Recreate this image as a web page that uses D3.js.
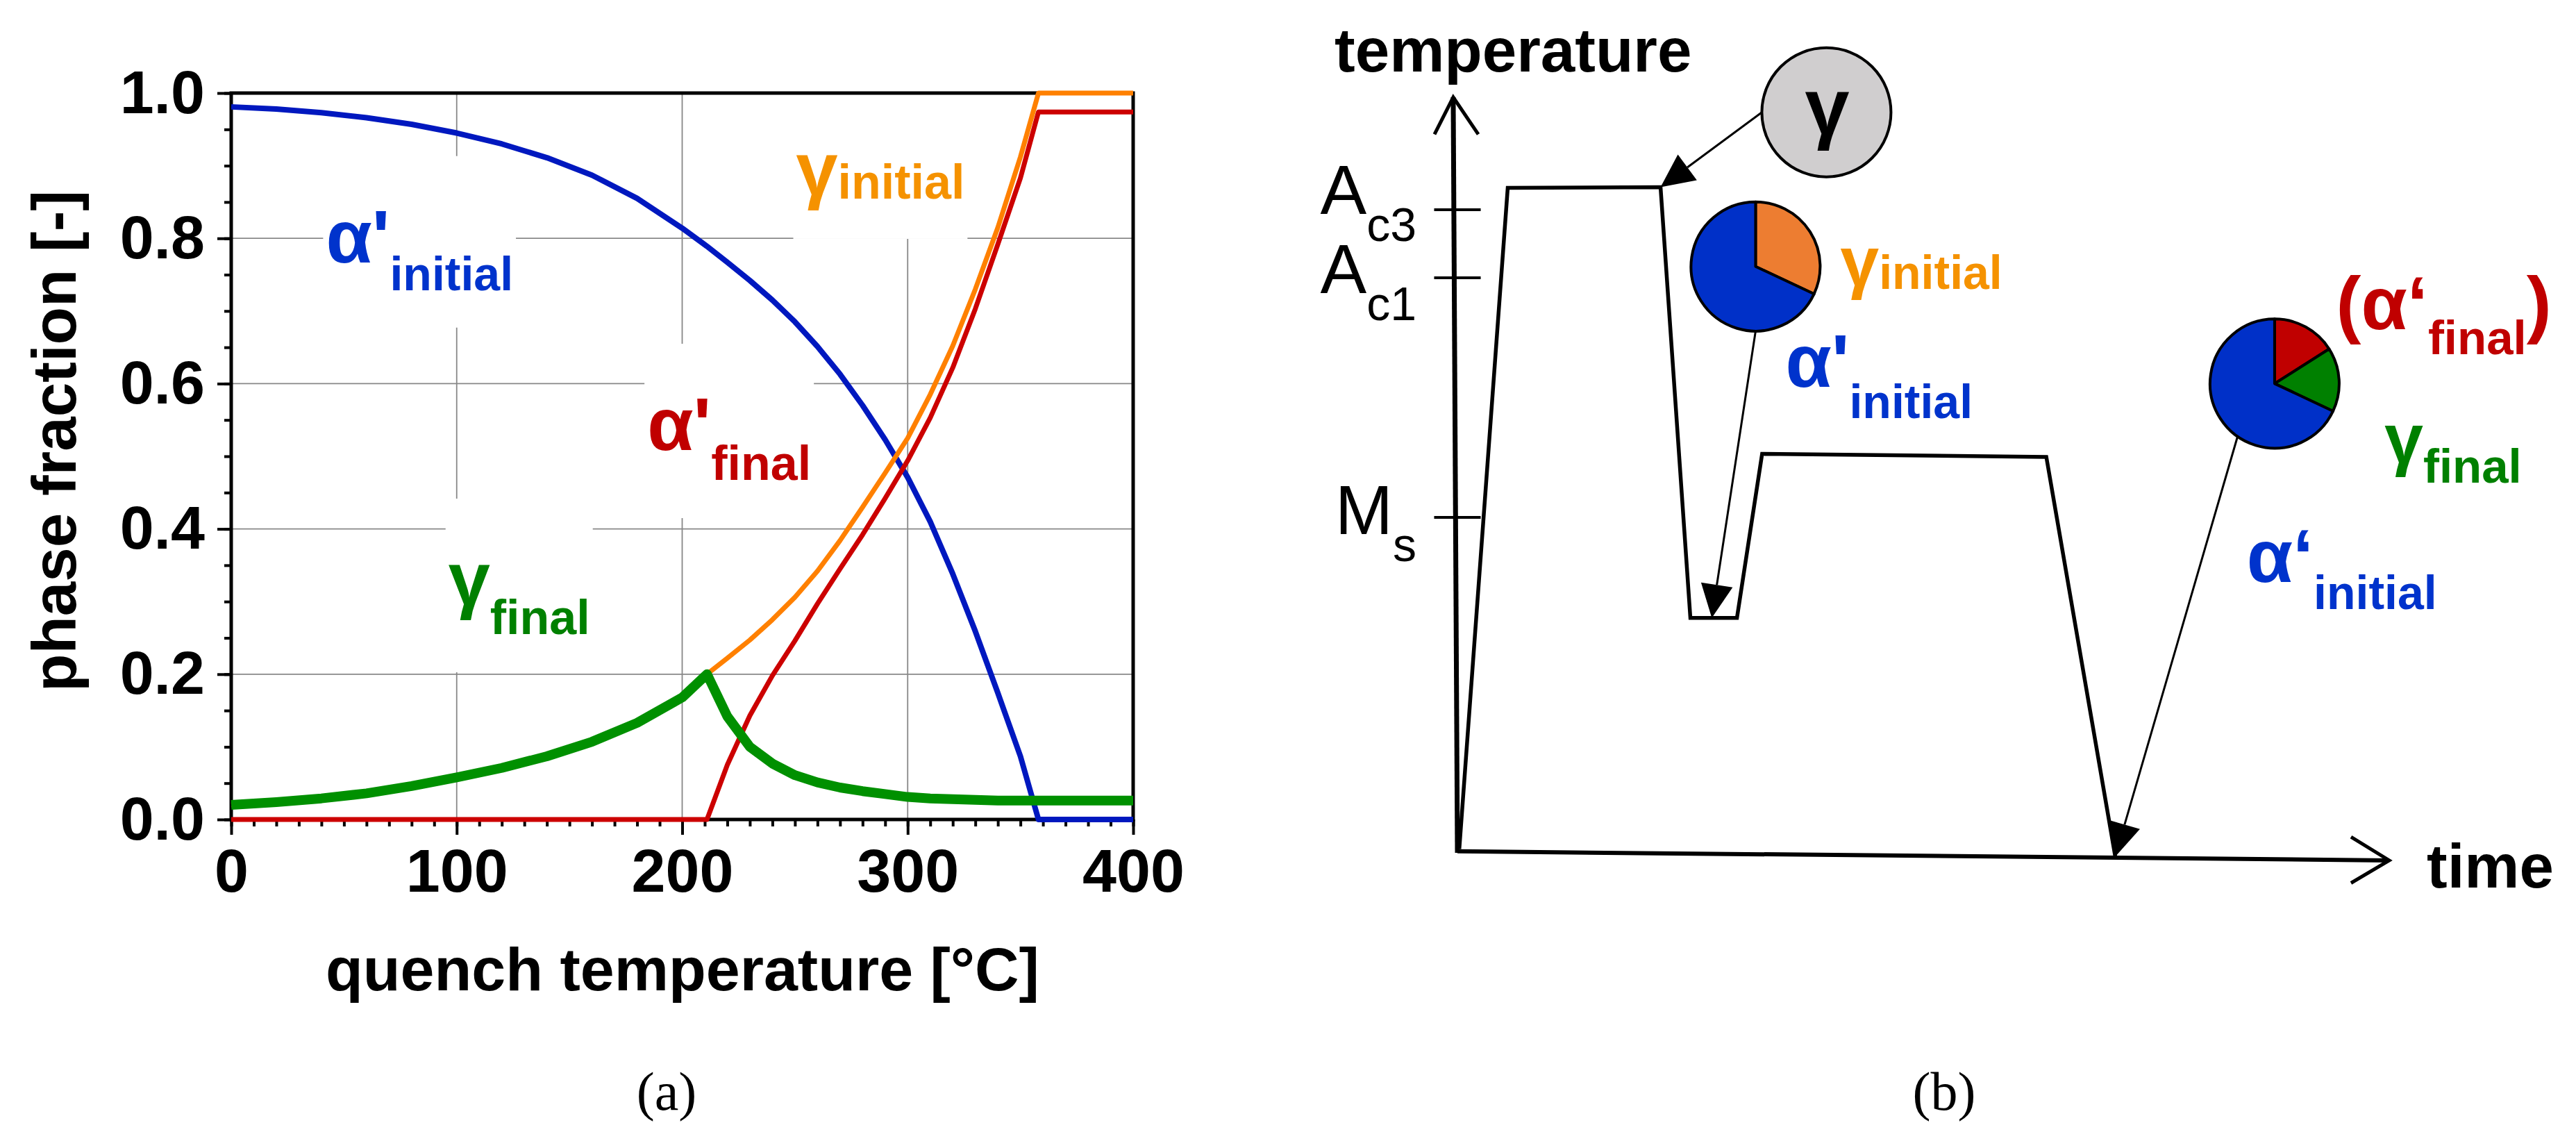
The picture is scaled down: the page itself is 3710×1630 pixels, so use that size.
<!DOCTYPE html>
<html>
<head>
<meta charset="utf-8">
<script src="https://cdn.jsdelivr.net/npm/d3@7"></script>
<style>
  body { margin: 0; background: #fff; }
  svg { display: block; }
  text { font-family: "Liberation Sans", Arial, sans-serif; }
</style>
</head>
<body>
<svg id="chart" width="3710" height="1630"></svg>
<script>
// ---- (a) phase fractions vs quench temperature ----
var quenchTemp   = [0, 20, 40, 60, 80, 100, 120, 140, 160, 180, 200, 211, 220, 230, 240, 250, 260, 270, 280, 290, 300, 310, 320, 330, 340, 350, 358, 370, 385, 400];
var alphaInitial = [.981, .978, .973, .966, .957, .945, .930, .911, .887, .855, .814, .789, .767, .742, .715, .685, .651, .613, .570, .523, .471, .410, .338, .259, .174, .087, 0, 0, 0, 0];
var gammaInitial = [.020, .024, .029, .036, .046, .058, .071, .087, .107, .133, .168, .200, .222, .247, .275, .306, .342, .384, .430, .477, .525, .585, .652, .730, .815, .912, 1, 1, 1, 1];
var alphaFinal   = [0, 0, 0, 0, 0, 0, 0, 0, 0, 0, 0, 0, .075, .143, .198, .246, .297, .345, .392, .442, .494, .553, .622, .703, .792, .883, .974, .974, .974, .974];
var gammaFinal   = [.020, .024, .029, .036, .046, .058, .071, .087, .107, .133, .168, .200, .142, .100, .077, .061, .051, .044, .039, .035, .031, .029, .028, .027, .026, .026, .026, .026, .026, .026];

var xTickValues = [0, 100, 200, 300, 400];
var xTickLabels = ["0", "100", "200", "300", "400"];
var yTickValues = [0, 0.2, 0.4, 0.6, 0.8, 1.0];
var yTickLabels = ["0.0", "0.2", "0.4", "0.6", "0.8", "1.0"];

// ---- (b) schematic heat treatment ----
var pathTime = [0.2, 5.4, 21.8, 25.0, 30.0, 32.7, 63.2, 70.6];
var pathTemp = [0.5, 88.0, 88.1, 31.1, 31.1, 52.8, 52.4, -0.5];
var critNames = ["A", "A", "M"];
var critSubs  = ["c3", "c1", "s"];
var critTemps = [85.1, 76.1, 44.4];
var pieInitial = [0.32, 0.68];          // gamma initial, alpha' initial
var pieFinal   = [0.16, 0.16, 0.68];    // alpha' final, gamma final, alpha' initial

var svg = d3.select("#chart");
var bold = "bold";

// ================= panel (a) =================
var x = d3.scaleLinear().domain([0, 400]).range([333, 1632]);
var y = d3.scaleLinear().domain([0, 1]).range([1180, 134]);
var gA = svg.append("g");

// grid
gA.append("g").selectAll("line").data(xTickValues.slice(1, -1)).join("line")
  .attr("x1", d => x(d)).attr("x2", d => x(d)).attr("y1", y(0)).attr("y2", y(1))
  .attr("stroke", "#888").attr("stroke-width", 1.8);
gA.append("g").selectAll("line").data(yTickValues.slice(1, -1)).join("line")
  .attr("y1", d => y(d)).attr("y2", d => y(d)).attr("x1", x(0)).attr("x2", x(400))
  .attr("stroke", "#888").attr("stroke-width", 1.8);

var boxes = gA.append("g");

// axes
function styleAxis(g) {
  g.select(".domain").remove();
  g.selectAll(".tick line").attr("stroke", "#000").attr("stroke-width", 4);
  g.selectAll(".tick text").attr("font-size", 88).attr("font-weight", bold).attr("fill", "#000");
}
gA.append("g").attr("transform", "translate(0," + y(0) + ")")
  .call(d3.axisBottom(x).tickValues(d3.range(0, 401, 10)).tickSize(10).tickFormat(""))
  .call(styleAxis);
gA.append("g").attr("transform", "translate(0," + y(0) + ")")
  .call(d3.axisBottom(x).tickValues(xTickValues).tickSize(22).tickPadding(20)
    .tickFormat((d, i) => xTickLabels[i]))
  .call(styleAxis);
gA.append("g").attr("transform", "translate(" + x(0) + ",0)")
  .call(d3.axisLeft(y).tickValues(d3.range(0, 1.001, 0.05)).tickSize(10).tickFormat(""))
  .call(styleAxis);
gA.append("g").attr("transform", "translate(" + x(0) + ",0)")
  .call(d3.axisLeft(y).tickValues(yTickValues).tickSize(20).tickPadding(18)
    .tickFormat((d, i) => yTickLabels[i]))
  .call(styleAxis);

gA.append("rect").attr("x", x(0)).attr("y", y(1))
  .attr("width", x(400) - x(0)).attr("height", y(0) - y(1))
  .attr("fill", "none").attr("stroke", "#000").attr("stroke-width", 5);

// curves
var line = d3.line().x(d => x(d[0])).y(d => y(d[1]));
var series = [
  { v: alphaInitial, c: "#0018BF", w: 8 },
  { v: gammaInitial, c: "#FF8000", w: 7 },
  { v: alphaFinal,   c: "#CC0000", w: 7 },
  { v: gammaFinal,   c: "#009000", w: 14 }
];
gA.append("g").selectAll("path").data(series).join("path")
  .attr("d", s => line(quenchTemp.map((t, i) => [t, s.v[i]])))
  .attr("fill", "none").attr("stroke", s => s.c).attr("stroke-width", s => s.w)
  .attr("stroke-linejoin", "round");

// axis titles
gA.append("text").attr("x", 983).attr("y", 1426).attr("text-anchor", "middle")
  .attr("font-size", 88).attr("font-weight", bold).text("quench temperature [°C]");
gA.append("text").attr("transform", "translate(109,635) rotate(-90)").attr("text-anchor", "middle")
  .attr("font-size", 89).attr("font-weight", bold).text("phase fraction [-]");

function label(g, px, py, parts, color) {
  var t = g.append("text").attr("x", px).attr("y", py).attr("fill", color).attr("font-weight", bold);
  parts.forEach(function (p) {
    t.append("tspan").attr("font-size", p[1]).attr("dy", p[2] || 0).text(p[0]);
  });
  return t;
}
var labA = gA.append("g");
var labelsA = [
  label(labA, x(42), y(0.767), [["α'", 108], ["initial", 68, 40]], "#0033CC"),
  label(labA, x(250.5), y(0.8595), [["γ", 108], ["initial", 70, 5]], "#F59200"),
  label(labA, x(184.5), y(0.5086), [["α'", 108], ["final", 70, 43]], "#C00000"),
  label(labA, x(96.3), y(0.2954), [["γ", 108], ["final", 70, 42]], "#008000")
];
labelsA.forEach(function (t) {
  var b = t.node().getBBox();
  boxes.append("rect").attr("x", b.x - 4).attr("y", b.y - 55)
    .attr("width", b.width + 8).attr("height", b.height + 95).attr("fill", "#fff");
});

// ================= panel (b) =================
var tx = d3.scaleLinear().domain([0, 100]).range([2099, 3441]);
var ty = d3.scaleLinear().domain([0, 100]).range([1228, 140]);
var gB = svg.append("g");

// axes with open arrow heads
var pl = d3.line().x(d => tx(d[0])).y(d => ty(d[1]));
gB.append("path").attr("d", pl([[0, 0], [-0.45, 100]])).attr("stroke", "#000").attr("stroke-width", 7).attr("fill", "none");
gB.append("path").attr("d", pl([[0, 0.2], [100, -1.0]])).attr("stroke", "#000").attr("stroke-width", 6).attr("fill", "none");
gB.append("path").attr("d", pl([[-2.46, 95.1], [-0.45, 100], [2.24, 95.1]])).attr("stroke", "#000").attr("stroke-width", 5).attr("fill", "none");
gB.append("path").attr("d", pl([[95.9, 2.1], [100, -1.0], [95.9, -4.0]])).attr("stroke", "#000").attr("stroke-width", 5).attr("fill", "none");

gB.append("text").attr("x", 1922).attr("y", 103).attr("font-size", 89).attr("font-weight", bold).text("temperature");
gB.append("text").attr("x", 3495).attr("y", 1278).attr("font-size", 89).attr("font-weight", bold).text("time");

// critical temperatures
var labDy = [6, 22, 24];
critTemps.forEach(function (t, i) {
  gB.append("line").attr("x1", tx(-2.5)).attr("x2", tx(2.5)).attr("y1", ty(t)).attr("y2", ty(t))
    .attr("stroke", "#000").attr("stroke-width", 4);
  var tt = gB.append("text").attr("x", 2040).attr("y", ty(t) + labDy[i]).attr("text-anchor", "end");
  tt.append("tspan").attr("font-size", 100).text(critNames[i]);
  tt.append("tspan").attr("font-size", 68).attr("dy", 39).text(critSubs[i]);
});

// temperature-time path
gB.append("path").attr("d", pl(pathTime.map((t, i) => [t, pathTemp[i]])))
  .attr("fill", "none").attr("stroke", "#000").attr("stroke-width", 5.5).attr("stroke-linejoin", "miter");

// arrows
function arrow(x1, y1, x2, y2) {
  var dx = x2 - x1, dy = y2 - y1, L = Math.hypot(dx, dy), ux = dx / L, uy = dy / L, hl = 48, hw = 23;
  var bx = x2 - ux * hl, by = y2 - uy * hl;
  gB.append("line").attr("x1", x1).attr("y1", y1).attr("x2", bx).attr("y2", by)
    .attr("stroke", "#000").attr("stroke-width", 3);
  gB.append("path").attr("d", "M" + x2 + "," + y2 + "L" + (bx - uy * hw) + "," + (by + ux * hw) +
    "L" + (bx + uy * hw) + "," + (by - ux * hw) + "Z").attr("fill", "#000");
}
var R = 93;
var cGamma = [tx(39.6), ty(98.0)], cPie1 = [tx(32.0), ty(77.6)], cPie2 = [tx(87.7), ty(62.1)];
arrow(cGamma[0] - R, cGamma[1], tx(pathTime[2]), ty(pathTemp[2]));
arrow(cPie1[0], cPie1[1] + R, tx(27.3), ty(31.1));
arrow(cPie2[0] + R * Math.cos(125 * Math.PI / 180), cPie2[1] + R * Math.sin(125 * Math.PI / 180),
  tx(pathTime[7]), ty(pathTemp[7]));

// gamma circle
gB.append("circle").attr("cx", cGamma[0]).attr("cy", cGamma[1]).attr("r", R)
  .attr("fill", "#D0CECF").attr("stroke", "#000").attr("stroke-width", 4);
gB.append("text").attr("x", cGamma[0] + 1).attr("y", cGamma[1] + 31).attr("text-anchor", "middle")
  .attr("font-size", 115).attr("font-weight", bold).text("γ");

// pies
var pie = d3.pie().sort(null);
var arc = d3.arc().innerRadius(0).outerRadius(R);
function drawPie(c, vals, cols) {
  gB.append("g").attr("transform", "translate(" + c[0] + "," + c[1] + ")")
    .selectAll("path").data(pie(vals)).join("path")
    .attr("d", arc).attr("fill", (d, i) => cols[i])
    .attr("stroke", "#000").attr("stroke-width", 4).attr("stroke-linejoin", "round");
}
drawPie(cPie1, pieInitial, ["#ED7D31", "#0030C8"]);
drawPie(cPie2, pieFinal, ["#C00000", "#008000", "#0030C8"]);

// labels
label(gB, tx(41.1), ty(75.1), [["γ", 100], ["initial", 68, 5]], "#F59200");
label(gB, tx(35.2), ty(61.7), [["α'", 108], ["initial", 68, 45]], "#0033CC");
label(gB, tx(94.3), ty(69.3), [["(α‘", 108], ["final", 69, 36], [")", 108, -36]], "#C00000");
label(gB, tx(99.5), ty(51.7), [["γ", 100], ["final", 69, 29]], "#008000");
label(gB, tx(84.7), ty(35.8), [["α‘", 108], ["initial", 68, 39]], "#0033CC");

// captions
svg.append("text").attr("x", 960).attr("y", 1598).attr("text-anchor", "middle")
  .style("font-family", "'Liberation Serif', serif").attr("font-size", 78).text("(a)");
svg.append("text").attr("x", 2800).attr("y", 1598).attr("text-anchor", "middle")
  .style("font-family", "'Liberation Serif', serif").attr("font-size", 78).text("(b)");
</script>
</body>
</html>
